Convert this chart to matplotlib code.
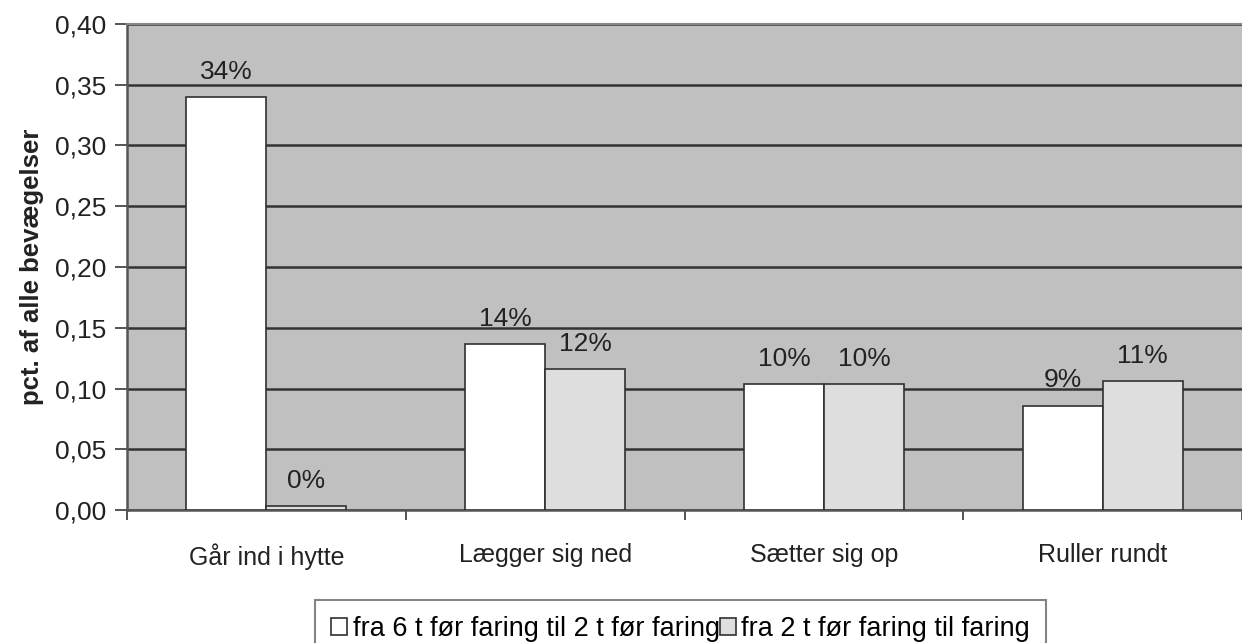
import numpy as np
import matplotlib.pyplot as plt
from matplotlib.ticker import FixedLocator

plt.rcParams['font.family'] = ['Liberation Sans', 'DejaVu Sans']

categories = ['Går ind i hytte', 'Lægger sig ned', 'Sætter sig op', 'Ruller rundt']
series_names = ['fra 6 t før faring til 2 t før faring', 'fra 2 t før faring til faring']
vals_6_2 = [0.340, 0.137, 0.104, 0.086]
vals_2_0 = [0.003, 0.116, 0.104, 0.106]
yticks = [0.00, 0.05, 0.10, 0.15, 0.20, 0.25, 0.30, 0.35, 0.40]

fig = plt.figure(figsize=(12.42, 6.43), dpi=100)
ax = fig.add_axes([0.1023, 0.2068, 0.8977, 0.7559])
ax.set_facecolor('#c0c0c0')

x = np.arange(len(categories))
w = 0.287
b1 = ax.bar(x - w / 2, vals_6_2, w, color='white', edgecolor='#303030', linewidth=1.2,
            label=series_names[0], zorder=3)
b2 = ax.bar(x + w / 2, vals_2_0, w, color='#dedede', edgecolor='#303030', linewidth=1.2,
            label=series_names[1], zorder=3)

for bars, vals in [(b1, vals_6_2), (b2, vals_2_0)]:
    for rect, v in zip(bars, vals):
        ax.annotate('%d%%' % round(v * 100), (rect.get_x() + rect.get_width() / 2, v),
                    xytext=(0, 13), textcoords='offset points', ha='center', va='baseline',
                    fontsize=19, color='#222222', zorder=4)

ax.set_xlim(-0.5, len(categories) - 0.5)
ax.set_ylim(0, 0.40)
ax.set_yticks(yticks)
ax.set_yticklabels([('%.2f' % t).replace('.', ',') for t in yticks], fontsize=19, color='#222222')
ax.yaxis.grid(True, color='#333333', linewidth=1.8, zorder=1)
ax.set_axisbelow(True)
ax.tick_params(axis='y', length=9, width=1.4, color='#555555', pad=6)

ax.set_xticks(x)
ax.set_xticklabels(categories, fontsize=18, color='#222222', va='top')
ax.tick_params(axis='x', which='major', length=0, pad=24)
ax.xaxis.set_minor_locator(FixedLocator(np.arange(-0.5, len(categories), 1.0)))
ax.tick_params(axis='x', which='minor', length=7, width=1.4, color='#555555')

ax.set_ylabel('pct. af alle bevægelser', fontsize=18.5, fontweight='bold', color='#222222', labelpad=8)

for side in ['left', 'bottom']:
    ax.spines[side].set_color('#555555')
    ax.spines[side].set_linewidth(1.8)
ax.spines['top'].set_color('#888888')
ax.spines['top'].set_linewidth(1.5)
ax.spines['right'].set_visible(False)

leg = fig.legend(loc='upper center', bbox_to_anchor=(0.548, 0.067), ncol=2, fontsize=19.5,
                 frameon=True, fancybox=False, edgecolor='#666666', handlelength=0.6,
                 handleheight=0.6, handletextpad=0.2, columnspacing=0.0, borderpad=0.6,
                 borderaxespad=0)
leg.get_frame().set_linewidth(1.5)

plt.savefig('out.png', dpi=100)
